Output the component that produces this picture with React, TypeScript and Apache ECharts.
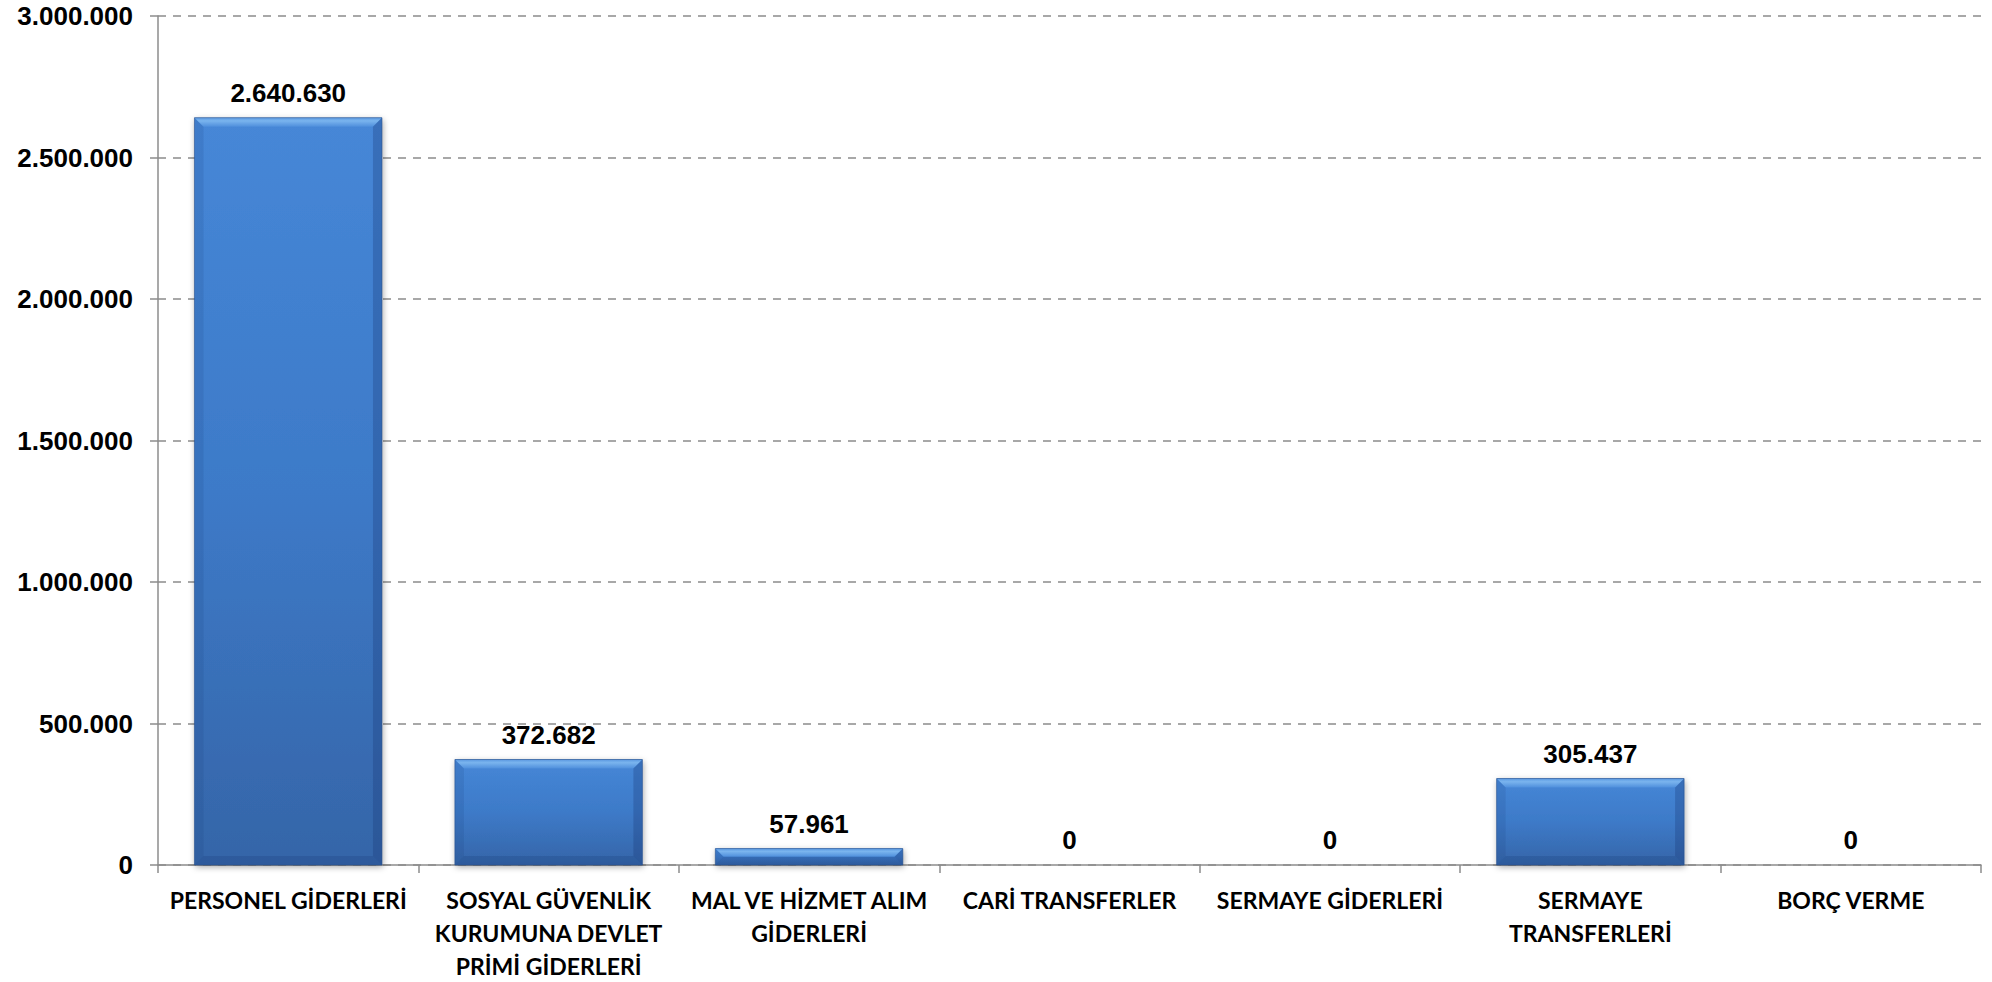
import React, { useEffect, useRef } from "react";
import * as echarts from "echarts";

const categories = [
  "PERSONEL GİDERLERİ",
  "SOSYAL GÜVENLİK\nKURUMUNA DEVLET\nPRİMİ GİDERLERİ",
  "MAL VE HİZMET ALIM\nGİDERLERİ",
  "CARİ TRANSFERLER",
  "SERMAYE GİDERLERİ",
  "SERMAYE\nTRANSFERLERİ",
  "BORÇ VERME",
];
const values = [2640630, 372682, 57961, 0, 0, 305437, 0];
const yMin = 0;
const yMax = 3000000;
const yInterval = 500000;

const fmt = (v: number) => String(Math.round(v)).replace(/\B(?=(\d{3})+(?!\d))/g, ".");

const BAR_RATIO = 0.72;

export default function App() {
  const ref = useRef<HTMLDivElement>(null);
  useEffect(() => {
    if (!ref.current) return;
    const chart = echarts.init(ref.current, null, { renderer: "svg" });
    chart.setOption({
      animation: false,
      backgroundColor: "#ffffff",
      grid: { left: 158, right: 11, top: 16, bottom: 114, containLabel: false },
      xAxis: {
        type: "category",
        data: categories,
        axisLine: { lineStyle: { color: "#8c8c8c", width: 1.5 } },
        axisTick: { show: true, length: 8, lineStyle: { color: "#8c8c8c", width: 1.5 } },
        axisLabel: {
          interval: 0,
          margin: 18,
          color: "#000",
          fontFamily: "Lato",
          fontWeight: "bold",
          fontSize: 23,
          lineHeight: 33,
          align: "center",
        },
      },
      yAxis: {
        type: "value",
        min: yMin,
        max: yMax,
        interval: yInterval,
        axisLine: { show: true, lineStyle: { color: "#8c8c8c", width: 1.5 } },
        axisTick: { show: true, length: 8, lineStyle: { color: "#8c8c8c", width: 1.5 } },
        splitLine: { lineStyle: { color: "#8c8c8c", width: 1.5, type: [8, 7] } },
        axisLabel: {
          margin: 25,
          color: "#000",
          fontFamily: "Liberation Sans, Arial",
          fontWeight: "bold",
          fontSize: 26,
          formatter: (v: number) => fmt(v),
        },
      },
      series: [
        {
          type: "bar",
          data: values,
          barWidth: BAR_RATIO * 100 + "%",
          z: 2,
          itemStyle: {
            color: new echarts.graphic.LinearGradient(0, 0, 0, 1, [
              { offset: 0, color: "#4687d7" },
              { offset: 0.5, color: "#3d7ac8" },
              { offset: 1, color: "#3565a8" },
            ]),
            shadowColor: "rgba(0,0,0,0.35)",
            shadowBlur: 6,
            shadowOffsetX: 1,
            shadowOffsetY: 2,
          },
          label: {
            show: true,
            position: "top",
            distance: 12,
            color: "#000",
            fontFamily: "Liberation Sans, Arial",
            fontWeight: "bold",
            fontSize: 26,
            formatter: (p: any) => fmt(p.value),
          },
        },
        {
          type: "custom",
          data: values.map((v, i) => [i, v]),
          z: 3,
          silent: true,
          renderItem: (params: any, api: any) => {
            const idx = api.value(0);
            const val = api.value(1);
            if (!val) return { type: "group", children: [] };
            const base = api.coord([idx, 0]);
            const top = api.coord([idx, val]);
            const w = api.size([1, 0])[0] * BAR_RATIO;
            const x0 = base[0] - w / 2;
            const x1 = base[0] + w / 2;
            const y0 = top[1];
            const y1 = base[1];
            const h = y1 - y0;
            const b = Math.min(9, h / 2);
            return {
              type: "group",
              children: [
                {
                  type: "polygon",
                  shape: { points: [[x0, y0], [x1, y0], [x1 - b, y0 + b], [x0 + b, y0 + b]] },
                  style: {
                    fill: new echarts.graphic.LinearGradient(0, 0, 0, 1, [
                      { offset: 0, color: "#5d9be2" },
                      { offset: 0.35, color: "#7ab4ee" },
                      { offset: 1, color: "#4f8fdc" },
                    ]),
                  },
                },
                {
                  type: "polygon",
                  shape: { points: [[x0, y0], [x0 + b, y0 + b], [x0 + b, y1 - b], [x0, y1]] },
                  style: { fill: "rgba(20,50,110,0.12)" },
                },
                {
                  type: "polygon",
                  shape: { points: [[x1, y0], [x1 - b, y0 + b], [x1 - b, y1 - b], [x1, y1]] },
                  style: { fill: "rgba(20,50,110,0.28)" },
                },
                {
                  type: "polygon",
                  shape: { points: [[x0, y1], [x0 + b, y1 - b], [x1 - b, y1 - b], [x1, y1]] },
                  style: { fill: "rgba(20,50,110,0.2)" },
                },
                {
                  type: "rect",
                  shape: { x: x0, y: y0, width: w, height: h },
                  style: { fill: "none", stroke: "rgba(40,80,140,0.6)", lineWidth: 1 },
                },
              ],
            };
          },
        },
      ],
    });
    return () => chart.dispose();
  }, []);
  return (
    <div
      ref={ref}
      style={{ position: "fixed", left: 0, top: 0, width: 1992, height: 982, background: "#fff" }}
    />
  );
}
